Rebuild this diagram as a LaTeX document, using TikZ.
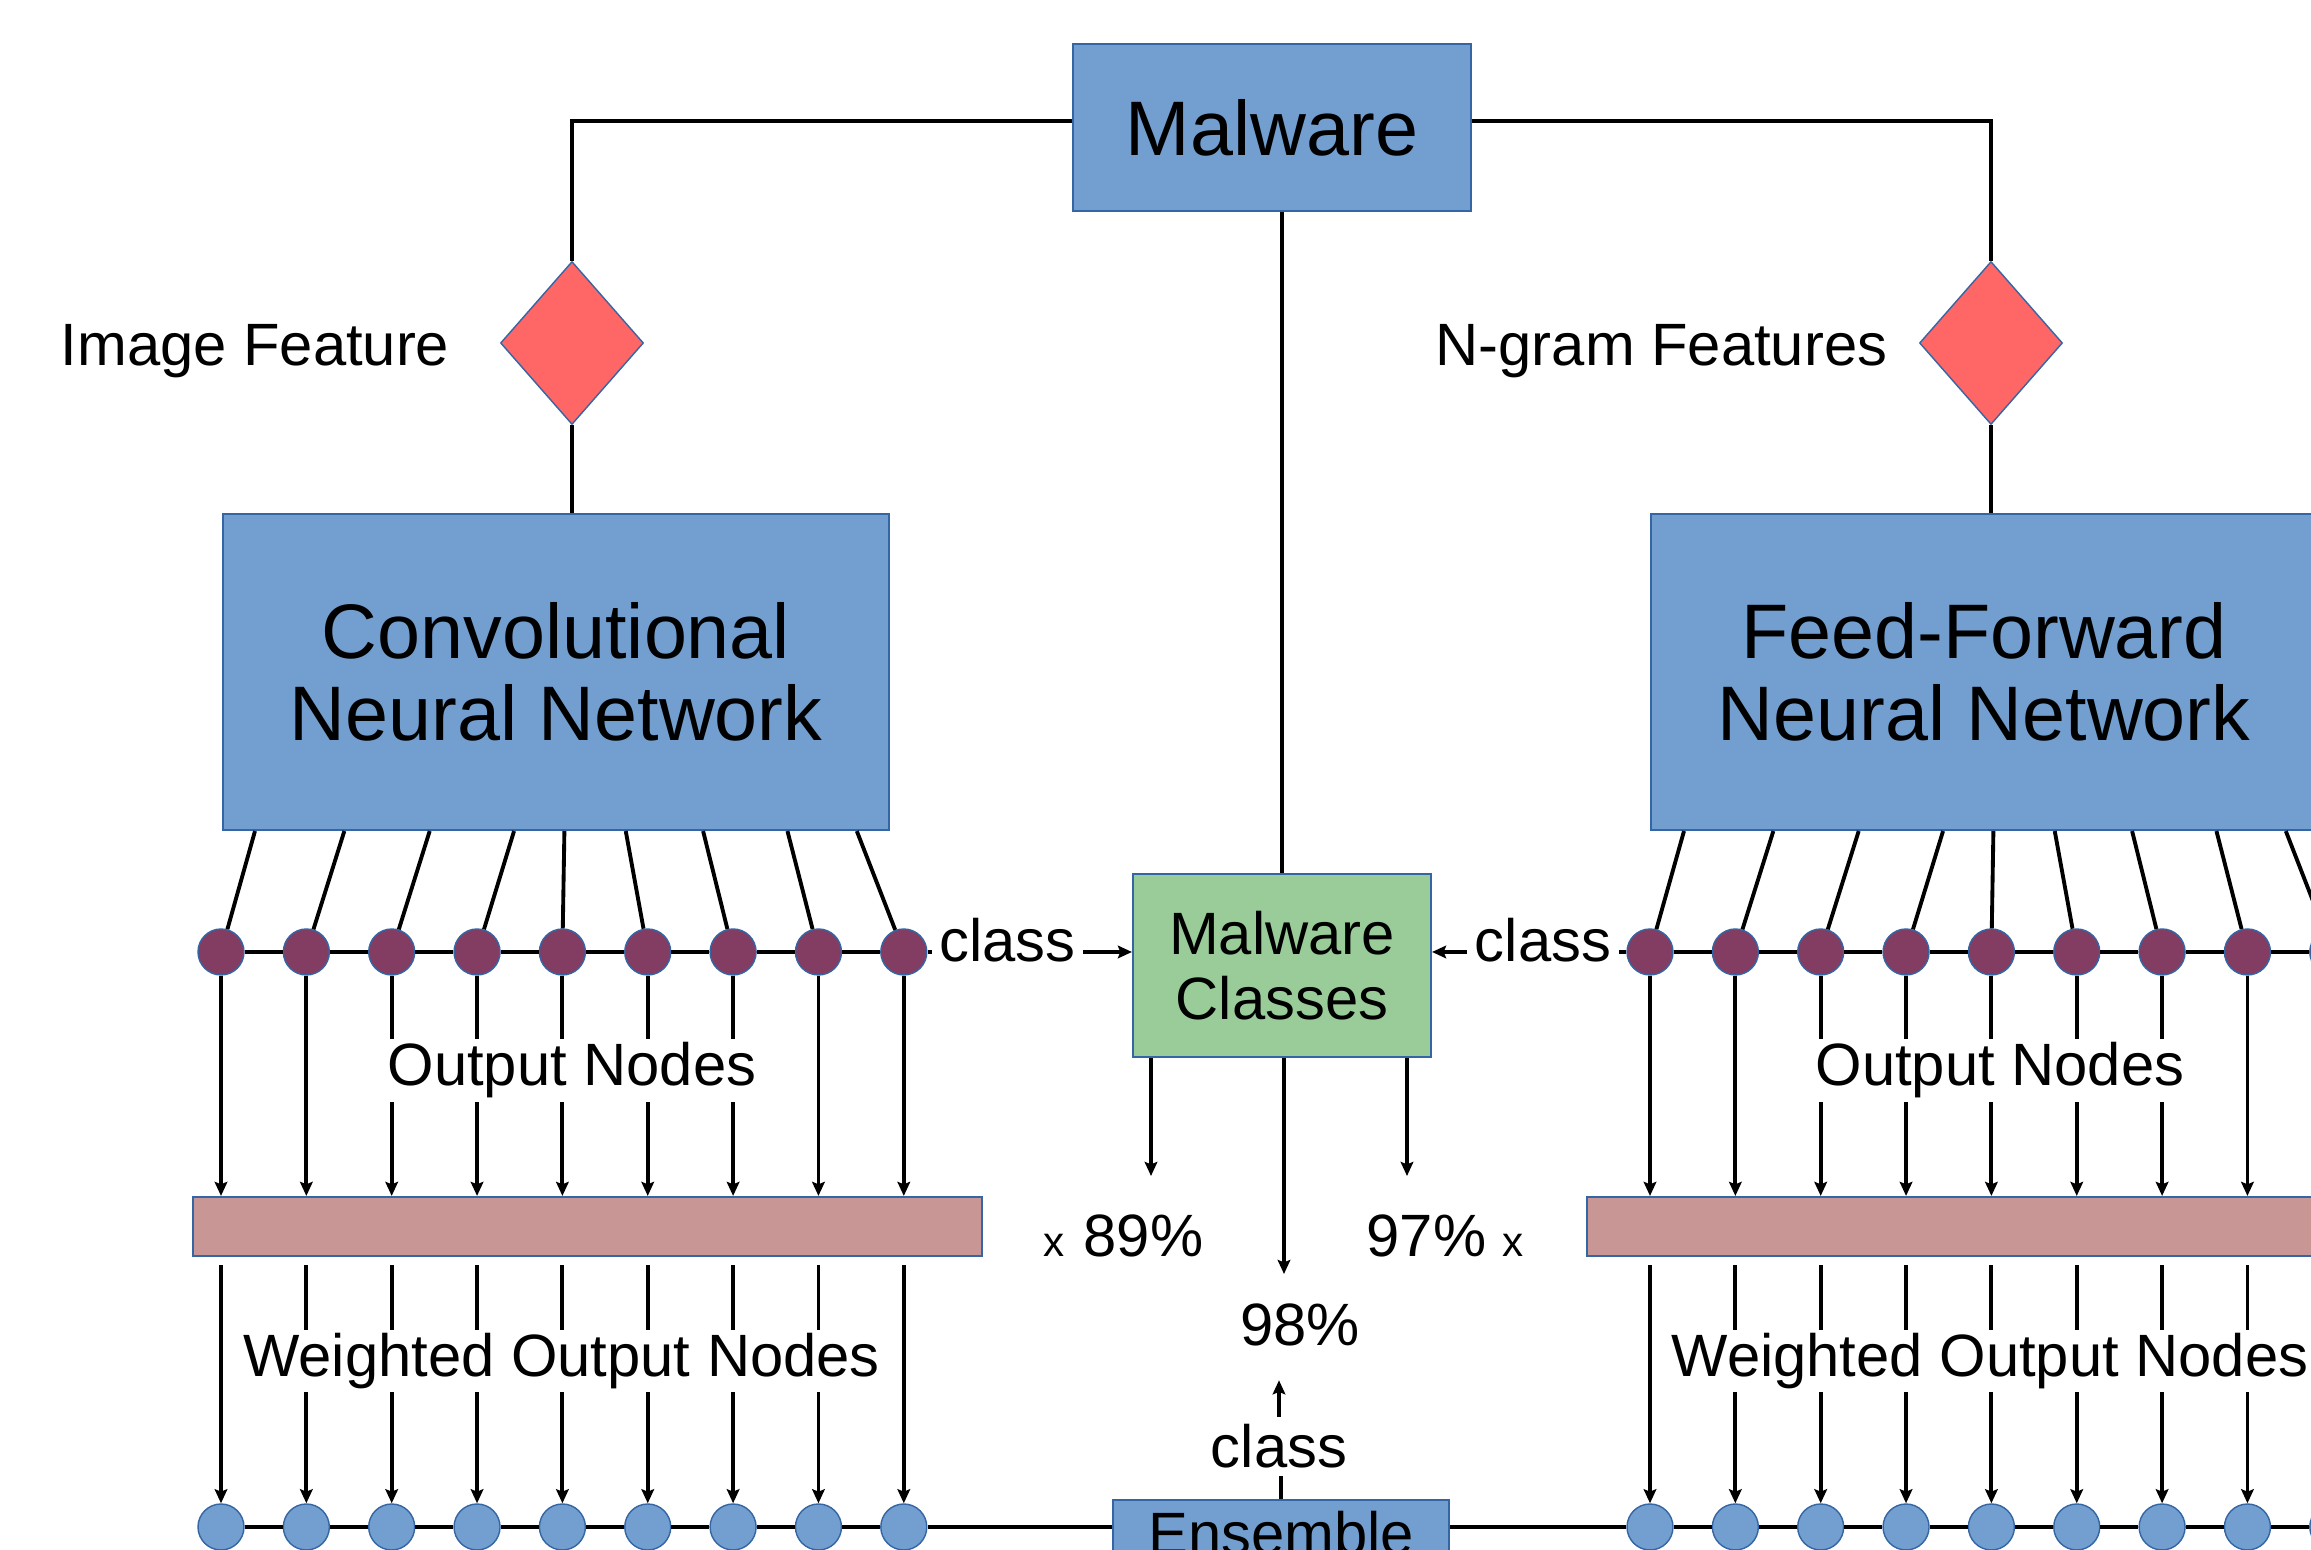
\documentclass[tikz,border=0pt]{standalone}
\usepackage{fontspec}
\setmainfont{Liberation Sans}
\usetikzlibrary{shapes.geometric, arrows.meta, calc}

\definecolor{boxblue}{RGB}{114,159,207}
\definecolor{edgeblue}{RGB}{52,101,164}
\definecolor{classgreen}{RGB}{153,204,153}
\definecolor{outpurple}{RGB}{131,60,98}
\definecolor{weightpink}{RGB}{201,150,150}
\definecolor{featred}{RGB}{255,102,102}

\tikzstyle{topbox} = [rectangle,
minimum width=3.98cm,
minimum height=1.67cm,
text centered,
line width=0.6pt,
draw=edgeblue,
fill=boxblue,
font=\fontsize{22}{26}\selectfont]
\tikzstyle{netbox} = [rectangle,
minimum width=6.66cm,
minimum height=3.16cm,
align=center,
line width=0.6pt,
draw=edgeblue,
fill=boxblue,
font=\fontsize{22}{23.5}\selectfont]
\tikzstyle{feature} = [diamond,
minimum width=1.43cm,
minimum height=1.63cm,
inner sep=0pt,
draw=edgeblue,
fill=featred]
\tikzstyle{classbox} = [rectangle,
minimum width=2.98cm,
minimum height=1.83cm,
align=center,
line width=0.6pt,
draw=edgeblue,
fill=classgreen,
font=\fontsize{17}{18.4}\selectfont]
\tikzstyle{ensbox} = [rectangle,
minimum width=3.36cm,
minimum height=0.61cm,
text height=12.2pt, text depth=0pt,
line width=0.6pt,
draw=edgeblue,
fill=boxblue,
font=\fontsize{17}{20}\selectfont]
\tikzstyle{weightbar} = [rectangle,
minimum width=7.89cm,
minimum height=0.59cm,
line width=0.6pt,
draw=edgeblue,
fill=weightpink]
\tikzstyle{outnode} = [circle, minimum size=0.46cm, inner sep=0pt, draw=edgeblue, fill=outpurple]
\tikzstyle{wnode} = [circle, minimum size=0.46cm, inner sep=0pt, draw=edgeblue, fill=boxblue]
\tikzstyle{txt} = [inner sep=2pt, font=\fontsize{17}{20}\selectfont]
\tikzstyle{gaptext} = [txt, fill=white, inner sep=1pt]
\tikzstyle{times} = [inner sep=2pt, font=\fontsize{12}{14}\selectfont]
\tikzstyle{wire} = [line width=1.1pt]
\tikzstyle{flow} = [line width=1.1pt,-{Stealth[length=4pt,width=3.6pt,inset=0.7pt]}]

\begin{document}
\begin{tikzpicture}
\useasboundingbox (0,0) rectangle (23.11,15.5);
\clip (0,0) rectangle (23.11,15.5);

\node (mw) [topbox] at (12.72,14.225) {Malware};
\node (dl) [feature] at (5.72,12.07) {};
\node (dr) [feature] at (19.91,12.07) {};
\node (imgf) [txt, anchor=base east] at (4.57,11.84) {Image Feature};
\node (ngf) [txt, anchor=base east] at (18.95,11.84) {N-gram Features};

\node (cnn) [netbox] at (5.56,8.78) {Convolutional\\Neural Network};
\node (ffnn) [netbox] at (19.84,8.78) {Feed-Forward\\Neural Network};
\node (mc) [classbox] at (12.82,5.845) {Malware\\Classes};

\node (barl) [weightbar] at (5.875,3.235) {};
\node (barr) [weightbar] at (19.815,3.235) {};
\node (ens) [ensbox, anchor=north] at (12.81,0.51) {Ensemble};

\foreach \i in {1,...,9} {
  \node (l\i) [outnode] at ({2.21+0.8535*(\i-1)},5.98) {};
  \node (r\i) [outnode] at ({16.50+0.8535*(\i-1)},5.98) {};
  \node (lw\i) [wnode] at ({2.21+0.8535*(\i-1)},0.23) {};
  \node (rw\i) [wnode] at ({16.50+0.8535*(\i-1)},0.23) {};
}

\draw [wire] ([yshift=0.065cm]mw.west) -| (dl);
\draw [wire] ([yshift=0.065cm]mw.east) -| (dr);
\draw [wire] (dl) -- (dl |- cnn.north);
\draw [wire] (dr) -- (dr |- ffnn.north);
\draw [wire] (mw.south -| mc.north) -- (mc.north);

% fan out of the two networks
\foreach \i/\d in {1/0.34,2/0.38,3/0.38,4/0.37,5/0.02,6/-0.22,7/-0.30,8/-0.31,9/-0.47} {
  \draw [wire] ($(cnn.south -| l\i)+(\d,0)$) -- (l\i);
  \draw [wire] ($(ffnn.south -| r\i)+(\d,0)$) -- (r\i);
  \draw [flow] (l\i) -- (l\i |- barl.north);
  \draw [flow] (r\i) -- (r\i |- barr.north);
  \draw [flow, shorten <=0.08cm] (l\i |- barl.south) -- (lw\i);
  \draw [flow, shorten <=0.08cm] (r\i |- barr.south) -- (rw\i);
}
\foreach \i [count=\j from 2] in {1,...,8} {
  \draw [wire] (l\i) -- (l\j);
  \draw [wire] (r\i) -- (r\j);
  \draw [wire] (lw\i) -- (lw\j);
  \draw [wire] (rw\i) -- (rw\j);
}
\draw [wire] (lw9) -- (lw9 -| ens.west);
\draw [wire] (ens.east |- rw1) -- (rw1);

\node (onl) [gaptext, anchor=base] at (5.72,4.64) {Output Nodes};
\node (onr) [gaptext, anchor=base] at (20.00,4.64) {Output Nodes};
\node (wnl) [gaptext, anchor=base] at (5.615,1.735) {Weighted Output Nodes};
\node (wnr) [gaptext, anchor=base] at (19.90,1.735) {Weighted Output Nodes};

\node (cls1) [txt, anchor=mid] at (10.075,5.98) {class};
\node (cls2) [txt, anchor=mid] at (15.43,5.98) {class};
\draw [wire] (l9) -- (cls1.mid west);
\draw [flow] (cls1.mid east) -- (cls1.mid east -| mc.west);
\draw [wire] (cls2.mid east) -- (r1);
\draw [flow] (cls2.mid west) -- (cls2.mid west -| mc.east);

\coordinate (t89) at (11.51,3.74);
\coordinate (t98) at (12.84,2.76);
\coordinate (t97) at (14.07,3.74);
\draw [flow] (mc.south -| t89) -- (t89);
\draw [flow] (mc.south -| t98) -- (t98);
\draw [flow] (mc.south -| t97) -- (t97);

\node (x89) [times, anchor=base] at (10.54,2.93) {x};
\node (p89) [txt, anchor=base] at (11.435,2.93) {89\%};
\node (p97) [txt, anchor=base] at (14.265,2.93) {97\%};
\node (x97) [times, anchor=base] at (15.13,2.93) {x};
\node (p98) [txt, anchor=base] at (13.00,2.04) {98\%};
\node (cls3) [txt, anchor=base] at (12.79,0.82) {class};

\draw [wire] (ens.north) -- (ens.north |- cls3.south);
\draw [flow, shorten >=0.26cm] (cls3.north) -- (cls3.north |- p98.south);

\end{tikzpicture}
\end{document}
